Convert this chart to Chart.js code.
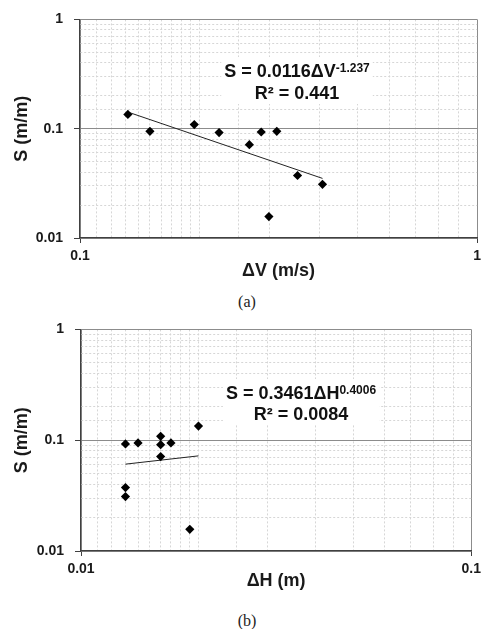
<!DOCTYPE html>
<html>
<head>
<meta charset="utf-8">
<script src="https://cdn.jsdelivr.net/npm/chart.js@4"></script>
<style>
  html, body { margin: 0; padding: 0; background: #fff; }
  body { width: 486px; height: 629px; position: relative; overflow: hidden; }
  .box { position: absolute; left: 0; width: 486px; height: 290px; }
  .cap { position: absolute; left: 0; width: 494px; text-align: center; font-family: "Liberation Serif", "DejaVu Serif", serif; font-size: 16px; color: #222; line-height: 18px; }
</style>
</head>
<body>
<div class="box" style="top:0"><canvas id="c1"></canvas></div>
<div class="cap" style="top:293px">(a)</div>
<div class="box" style="top:310px"><canvas id="c2"></canvas></div>
<div class="cap" style="top:612px">(b)</div>
<script>
// ---------- data ----------
const dV = [0.132, 0.150, 0.194, 0.224, 0.267, 0.286, 0.313, 0.299, 0.353, 0.408];
const sV = [0.135, 0.0946, 0.109, 0.0921, 0.0714, 0.0933, 0.0946, 0.0157, 0.0373, 0.0310];
const trendVx = [0.132, 0.408];
const trendVy = [0.142, 0.0351];

const dH = [0.0130, 0.0140, 0.0160, 0.0160, 0.0170, 0.0160, 0.0200, 0.0130, 0.0130, 0.0190];
const sH = [0.0925, 0.0944, 0.1083, 0.0912, 0.0944, 0.0712, 0.134, 0.0374, 0.0310, 0.0157];
const trendHx = [0.0130, 0.0200];
const trendHy = [0.0608, 0.0722];

const yTickLabels = ['0.01', '0.1', '1'];
const xTickLabelsA = ['0.1', '1'];
const xTickLabelsB = ['0.01', '0.1'];

const eqA = ['S = 0.0116ΔV', '-1.237', 'R² = 0.441'];
const eqB = ['S = 0.3461ΔH', '0.4006', 'R² = 0.0084'];
const titleY = 'S (m/m)';
const titleXA = 'ΔV (m/s)';
const titleXB = 'ΔH (m)';

// ---------- helpers ----------
const FONT = '"Liberation Sans", Arial, sans-serif';
function isDecade(v) { const l = Math.log10(v); return Math.abs(l - Math.round(l)) < 1e-6; }
function decadeLabel(labels, min) {
  return function (v) {
    if (!isDecade(v)) return '';
    const i = Math.round(Math.log10(v) - Math.log10(min));
    return labels[i] !== undefined ? labels[i] : '';
  };
}
function gridColor(c) { return (c.tick && isDecade(c.tick.value)) ? '#8c8c8c' : '#d6d6d6'; }
function tickColor(c) { return (c.tick && isDecade(c.tick.value)) ? '#404040' : 'rgba(0,0,0,0)'; }
function dash(c) { return (c.tick && !isDecade(c.tick.value)) ? [2, 2] : []; }

const eqPlugin = {
  id: 'eq',
  beforeDatasetsDraw(chart, args, opts) {
    const ctx = chart.ctx;
    const t = opts.text;
    ctx.save();
    ctx.font = 'bold 18px ' + FONT;
    const w1 = ctx.measureText(t[0]).width;
    ctx.font = 'bold 12px ' + FONT;
    const w2 = ctx.measureText(t[1]).width;
    const tot = w1 + w2;
    const cx = opts.cx, y1 = opts.y1, y2 = opts.y2;
    ctx.fillStyle = '#ffffff';
    ctx.fillRect(cx - tot / 2 - 3, y1 - 13, tot + 6, (y2 - y1) + 25);
    ctx.fillStyle = '#111';
    ctx.textBaseline = 'alphabetic';
    ctx.textAlign = 'left';
    ctx.font = 'bold 18px ' + FONT;
    ctx.fillText(t[0], cx - tot / 2, y1 + 6.5);
    ctx.font = 'bold 12px ' + FONT;
    ctx.fillText(t[1], cx - tot / 2 + w1, y1 + 1.5);
    ctx.font = 'bold 18px ' + FONT;
    ctx.textAlign = 'center';
    ctx.fillText(t[2], cx, y2 + 6.5);
    ctx.restore();
  }
};

function makeChart(id, xs, ys, tx, ty, xmin, xmax, xlabels, xtitle, pad, areaBottom, eqPos) {
  return new Chart(document.getElementById(id), {
    type: 'scatter',
    data: {
      datasets: [
        {
          data: xs.map((x, i) => ({ x: x, y: ys[i] })),
          pointStyle: 'rectRot', pointRadius: 4.6, pointHoverRadius: 4.6,
          backgroundColor: '#000', borderColor: '#000', borderWidth: 0
        },
        {
          data: tx.map((x, i) => ({ x: x, y: ty[i] })),
          showLine: true, pointRadius: 0, borderColor: '#222', borderWidth: 1, fill: false
        }
      ]
    },
    options: {
      responsive: true, maintainAspectRatio: false, animation: false,
      devicePixelRatio: 1,
      layout: { padding: { top: pad.top, right: pad.right, left: 0, bottom: 0 } },
      plugins: { legend: { display: false }, tooltip: { enabled: false }, eq: eqPos },
      scales: {
        x: {
          type: 'logarithmic', min: xmin, max: xmax,
          afterFit(s) { s.height = 290 - areaBottom; },
          grid: { color: gridColor, tickColor: tickColor, tickLength: 5, lineWidth: 1 },
          border: { color: '#404040', width: 1.2, dash: dash },
          ticks: { autoSkip: false, maxRotation: 0, padding: 5, color: '#1a1a1a',
                   font: { family: FONT, size: 14, weight: 'bold' },
                   callback: decadeLabel(xlabels, xmin) },
          title: { display: true, text: xtitle, color: '#1a1a1a', padding: { top: 0, bottom: 8.5 },
                   font: { family: FONT, size: 18, weight: 'bold' } }
        },
        y: {
          type: 'logarithmic', min: 0.01, max: 1,
          afterFit(s) { s.width = pad.yw; },
          grid: { color: gridColor, tickColor: tickColor, tickLength: 6, lineWidth: 1 },
          border: { color: '#404040', width: 1.2, dash: dash },
          ticks: { autoSkip: false, padding: 11, color: '#1a1a1a',
                   font: { family: FONT, size: 14, weight: 'bold' },
                   callback: decadeLabel(yTickLabels, 0.01) },
          title: { display: true, text: titleY, color: '#1a1a1a', padding: { top: 11, bottom: 0 },
                   font: { family: FONT, size: 18, weight: 'bold' } }
        }
      }
    },
    plugins: [eqPlugin]
  });
}

makeChart('c1', dV, sV, trendVx, trendVy, 0.1, 1, xTickLabelsA, titleXA,
  { top: 14, right: 8, yw: 80 }, 238,
  { text: eqA, cx: 297, y1: 70, y2: 92 });
makeChart('c2', dH, sH, trendHx, trendHy, 0.01, 0.1, xTickLabelsB, titleXB,
  { top: 17, right: 14, yw: 81 }, 241,
  { text: eqB, cx: 301, y1: 82, y2: 103 });
</script>
</body>
</html>
